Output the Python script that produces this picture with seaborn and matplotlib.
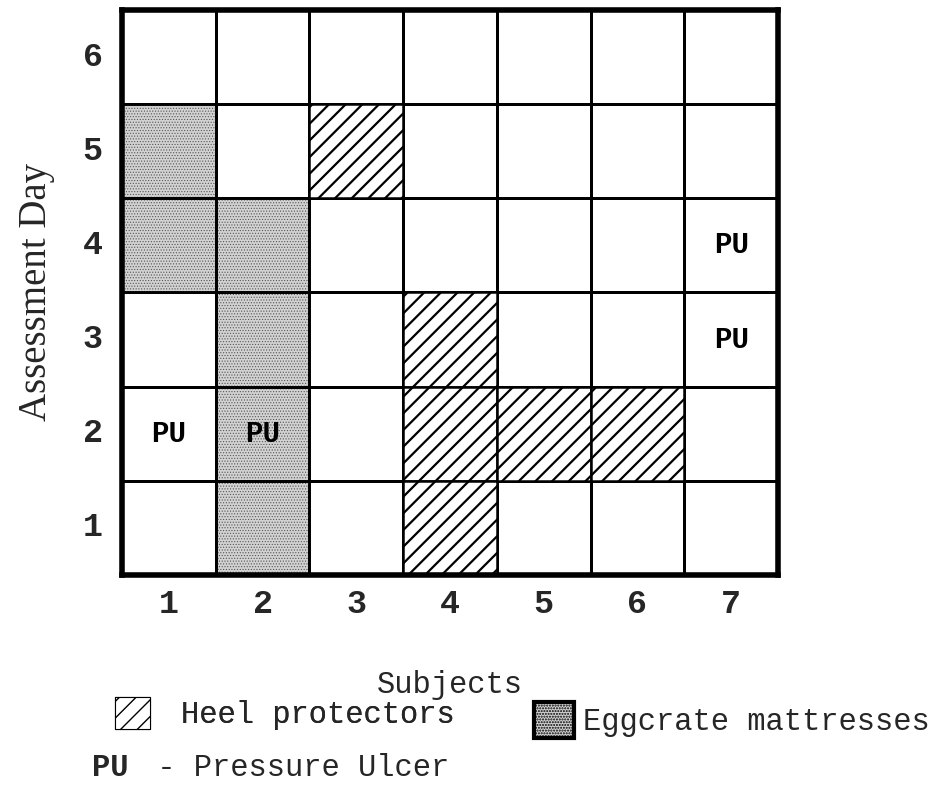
import numpy as np
import pandas as pd
import matplotlib
matplotlib.use("Agg")
import matplotlib.pyplot as plt
from matplotlib.colors import ListedColormap
from matplotlib.patches import Patch, Rectangle
import seaborn as sns

# data
subjects = [1, 2, 3, 4, 5, 6, 7]
days = [1, 2, 3, 4, 5, 6]

# heel protectors (hatched cells)
heel_subj = [3, 4, 4, 4, 5, 6]
heel_day = [5, 3, 2, 1, 2, 2]

# eggcrate mattresses (stippled cells)
egg_subj = [1, 1, 2, 2, 2, 2]
egg_day = [5, 4, 4, 3, 2, 1]

# pressure ulcers
pu_subj = [1, 2, 7, 7]
pu_day = [2, 2, 4, 3]

sns.set_style("white")
plt.rcParams["font.family"] = ["Liberation Mono", "DejaVu Sans"]

days_top = days[::-1]  # heatmap rows go top -> bottom

egg = pd.DataFrame(0, index=days_top, columns=subjects)
for s, d in zip(egg_subj, egg_day):
    egg.loc[d, s] = 1

pu = pd.DataFrame("", index=days_top, columns=subjects)
for s, d in zip(pu_subj, pu_day):
    pu.loc[d, s] = "PU"

fig = plt.figure(figsize=(9.42, 7.93), dpi=100)
ax = fig.add_axes([0.1295, 0.2749, 0.6964, 0.7125])

sns.heatmap(egg, cmap=ListedColormap(["white", "#d2d2d2"]), vmin=0, vmax=1,
            cbar=False, linewidths=1.8, linecolor="black",
            annot=pu.values, fmt="",
            annot_kws=dict(color="black", fontsize=21, fontweight="bold",
                           family="Liberation Mono"),
            ax=ax)

# stipple texture on eggcrate cells
with plt.rc_context({"hatch.linewidth": 0.5}):
    for s, d in zip(egg_subj, egg_day):
        col = subjects.index(s)
        row = days_top.index(d)
        ax.add_patch(Rectangle((col, row), 1, 1, facecolor="none",
                               edgecolor="#555555", hatch="......", lw=0))
    h_egg = Patch(facecolor="#d2d2d2", edgecolor="black", hatch="......", lw=3)

with plt.rc_context({"hatch.linewidth": 1.6}):
    for s, d in zip(heel_subj, heel_day):
        col = subjects.index(s)
        row = days_top.index(d)
        ax.add_patch(Rectangle((col, row), 1, 1, facecolor="white",
                               edgecolor="black", hatch="//", lw=1.8))
    h_heel = Patch(facecolor="white", edgecolor="black", hatch="//", lw=0.8)

# redraw the egg cell borders over the texture
for s, d in zip(egg_subj, egg_day):
    col = subjects.index(s)
    row = days_top.index(d)
    ax.add_patch(Rectangle((col, row), 1, 1, facecolor="none",
                           edgecolor="black", lw=1.8))

for sp in ax.spines.values():
    sp.set_visible(True)
    sp.set_linewidth(4)
    sp.set_color("black")

ax.tick_params(axis="both", length=0, labelsize=24)
ax.tick_params(axis="x", pad=10)
ax.tick_params(axis="y", pad=14)
for lbl in ax.get_xticklabels() + ax.get_yticklabels():
    lbl.set_fontweight("bold")
    lbl.set_rotation(0)

ax.set_xlabel("Subjects", fontsize=22, labelpad=36)
ax.set_ylabel("Assessment Day", fontsize=28, family="Liberation Serif",
              labelpad=20)

# legend
leg1 = fig.legend([h_heel], ["Heel protectors"], loc="center left",
                  bbox_to_anchor=(0.122, 0.1), frameon=False,
                  borderpad=0, borderaxespad=0, fontsize=22,
                  handlelength=1.15, handleheight=1.2, handletextpad=1.0)
fig.add_artist(leg1)
fig.legend([h_egg], ["Eggcrate mattresses"], loc="center left",
           bbox_to_anchor=(0.567, 0.092), frameon=False,
           borderpad=0, borderaxespad=0, fontsize=22,
           handlelength=1.3, handleheight=1.4, handletextpad=0.3)

fig.text(0.098, 0.021, "PU", fontsize=22, fontweight="bold")
fig.text(0.148, 0.021, " - Pressure Ulcer", fontsize=22)

fig.savefig("out.png", dpi=100)
